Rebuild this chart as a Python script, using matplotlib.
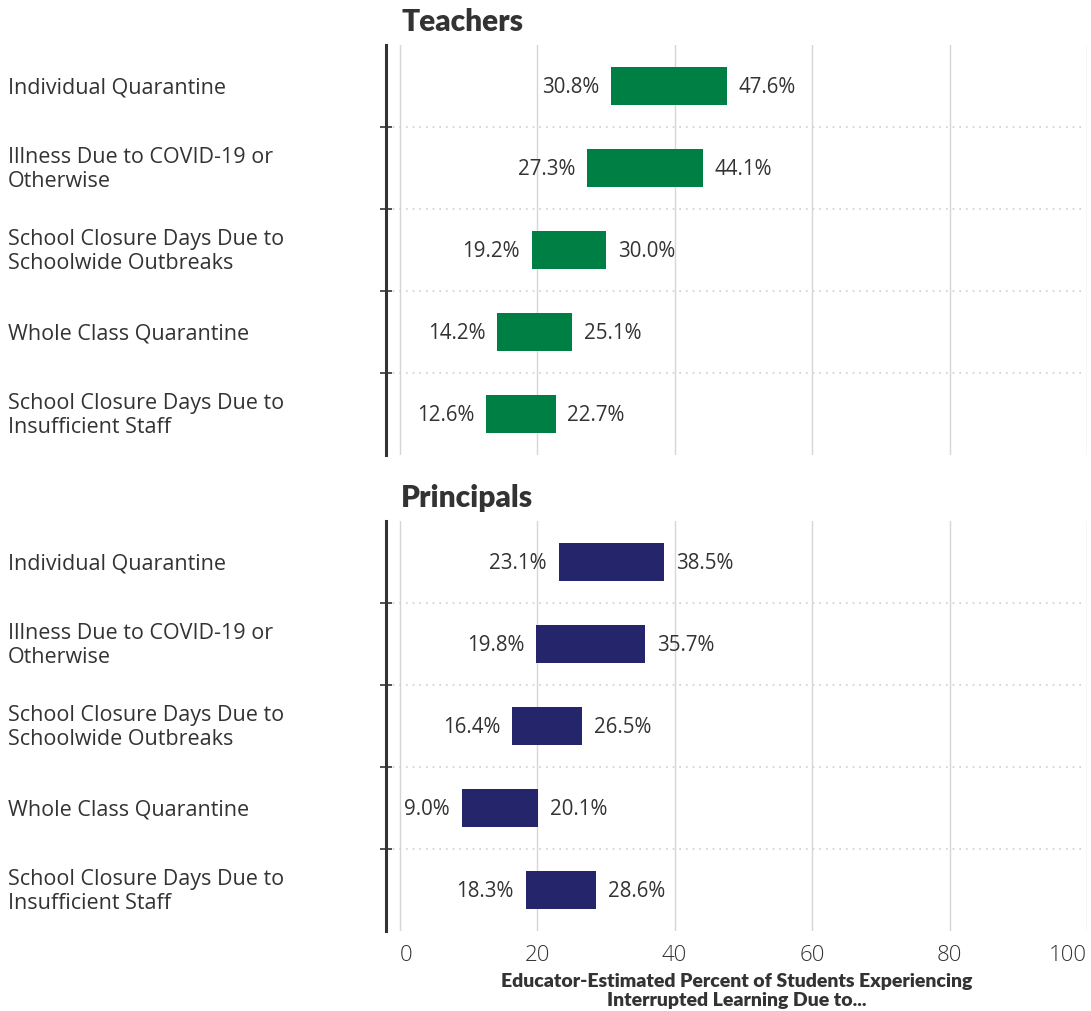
import matplotlib.pyplot as plt
import matplotlib.transforms as mtransforms
import numpy as np

plt.rcParams['font.family'] = ['Lato', 'DejaVu Sans']

categories = ['Individual Quarantine',
              'Illness Due to COVID-19 or\nOtherwise',
              'School Closure Days Due to\nSchoolwide Outbreaks',
              'Whole Class Quarantine',
              'School Closure Days Due to\nInsufficient Staff']

teachers_low = [30.8, 27.3, 19.2, 14.2, 12.6]
teachers_high = [47.6, 44.1, 30.0, 25.1, 22.7]
principals_low = [23.1, 19.8, 16.4, 9.0, 18.3]
principals_high = [38.5, 35.7, 26.5, 20.1, 28.6]

panels = [('Teachers', teachers_low, teachers_high, '#007f45'),
          ('Principals', principals_low, principals_high, '#25256b')]

text_col = '#333333'
body_font = ['Open Sans', 'DejaVu Sans']
W, H = 1091, 1011
fig = plt.figure(figsize=(W / 100, H / 100), dpi=100)

left = 386 / W
width = (1087 - 386) / W
tops = [45, 521]
ph = 410

for i, (name, lo, hi, col) in enumerate(panels):
    top = tops[i]
    ax = fig.add_axes([left, 1 - (top + ph) / H, width, ph / H])
    n = len(categories)
    y = np.arange(n)
    lo = np.array(lo)
    hi = np.array(hi)
    ax.barh(y, hi - lo, left=lo, height=0.47, color=col, zorder=3)
    ax.set_xlim(-2, 100)
    ax.set_ylim(n - 0.5, -0.5)

    for yy, a, b in zip(y, lo, hi):
        ax.text(a - 1.7, yy + 0.02, f'{a:.1f}%', ha='right', va='center',
                fontsize=14.8, color=text_col, family=body_font)
        ax.text(b + 1.7, yy + 0.02, f'{b:.1f}%', ha='left', va='center',
                fontsize=14.8, color=text_col, family=body_font)

    trans = mtransforms.blended_transform_factory(fig.transFigure, ax.transData)
    for yy, lab in zip(y, categories):
        ax.text(8 / W, yy + 0.02, lab, transform=trans, ha='left', va='center',
                fontsize=15.5, color=text_col, linespacing=1.22,
                family=body_font)

    # grid
    for gx in range(0, 101, 20):
        ax.axvline(gx, color='#d6d6d6', lw=1, zorder=1)
    for b in np.arange(0.5, n - 1, 1.0):
        ax.plot([-2, 99.3], [b, b], color='#d0d0d0', lw=1.2,
                linestyle=(0, (1, 3)), zorder=1, clip_on=False)

    for s in ['top', 'right', 'bottom']:
        ax.spines[s].set_visible(False)
    ax.spines['left'].set_color(text_col)
    ax.spines['left'].set_linewidth(2.2)

    ax.set_yticks(np.arange(0.5, n - 1, 1.0))
    ax.set_yticklabels([])
    ax.tick_params(axis='y', direction='inout', length=9, width=1.2,
                   color=text_col)

    ax.set_xticks(range(0, 101, 20))
    if i == 0:
        ax.tick_params(axis='x', length=0, labelbottom=False)
    else:
        ax.tick_params(axis='x', length=0, labelsize=16, labelcolor=text_col,
                       pad=10)
        ticklabs = ax.get_xticklabels()
        for t in ticklabs:
            t.set_family(body_font)
            t.set_fontweight('light')
        ticklabs[0].set_ha('left')
        ticklabs[-1].set_ha('right')
        ax.set_xlabel('Educator-Estimated Percent of Students Experiencing\n'
                      'Interrupted Learning Due to...', fontsize=14,
                      fontweight='heavy', color=text_col, labelpad=5,
                      linespacing=1.15)

    fig.text(401 / W, 1 - (top - 23) / H, name, ha='left', va='center',
             fontsize=21.5, fontweight='heavy', color=text_col)

fig.savefig('out.png', dpi=100)
